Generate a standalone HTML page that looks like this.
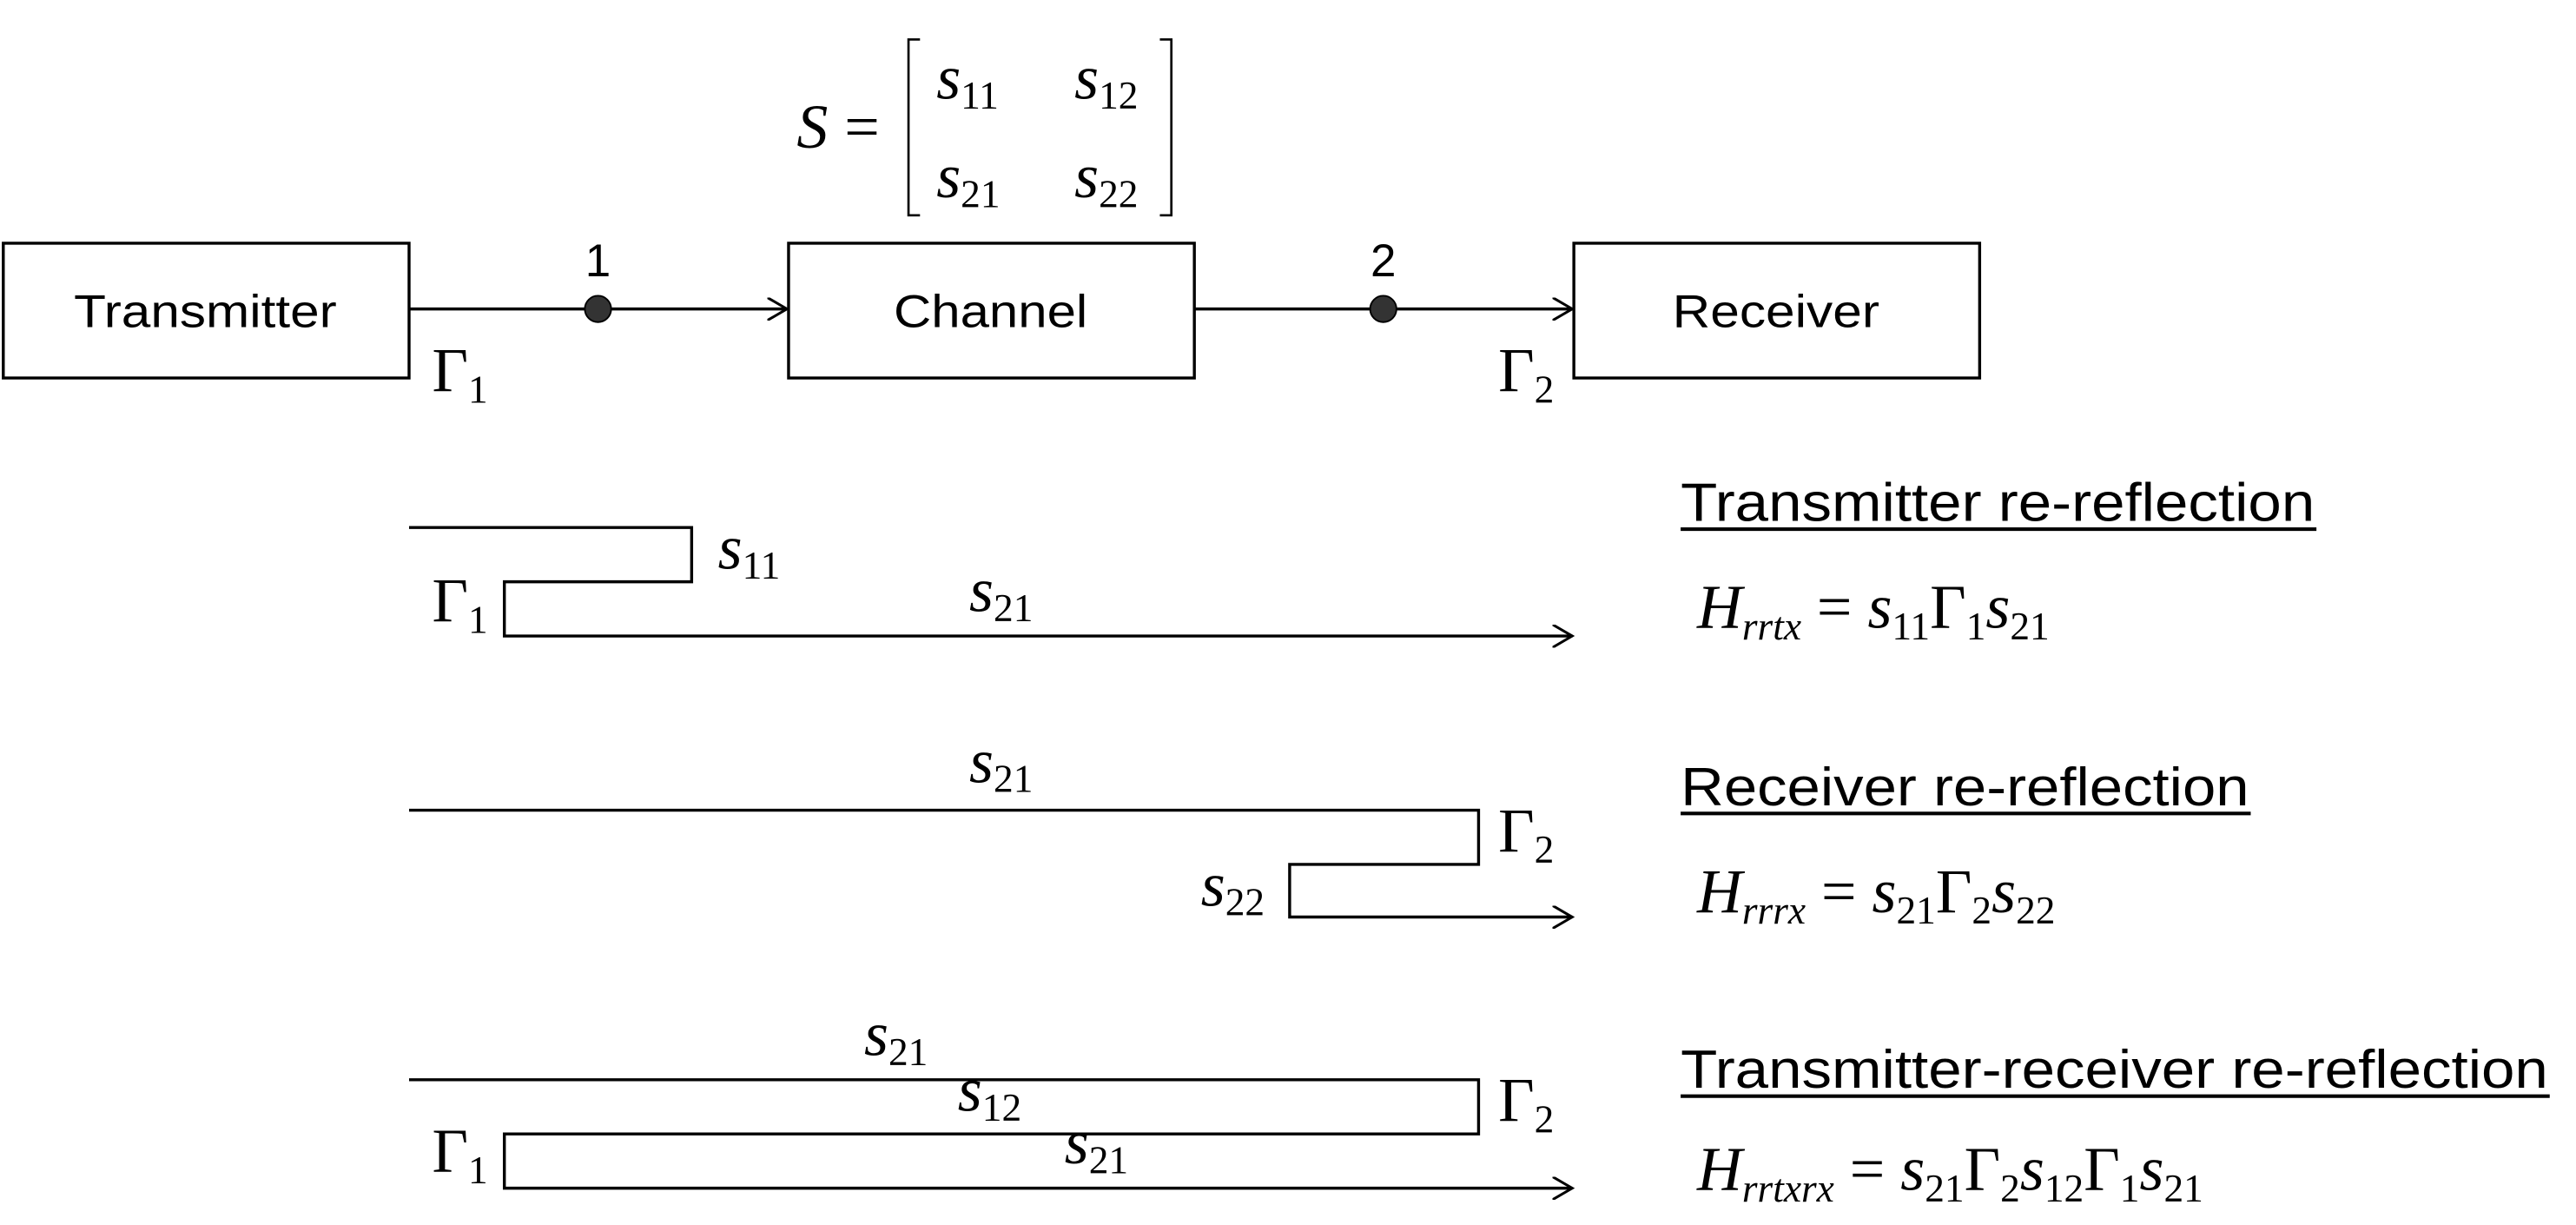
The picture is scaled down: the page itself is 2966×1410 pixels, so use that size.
<!DOCTYPE html>
<html><head><meta charset="utf-8"><style>
html,body{margin:0;padding:0;background:#fff;}
svg{display:block;}
.s{font-family:"Liberation Sans",sans-serif;fill:#000;}
.m{font-family:"Liberation Serif",serif;fill:#000;}
</style></head><body>
<svg width="2966" height="1410" viewBox="0 0 1568 745.4" preserveAspectRatio="none" xmlns="http://www.w3.org/2000/svg">
<defs><marker id="a" markerWidth="14" markerHeight="14" refX="12" refY="7" orient="auto" markerUnits="userSpaceOnUse"><path d="M0,0 L12,7 L0,14" fill="none" stroke="#000" stroke-width="1.6"/></marker></defs>
<g stroke="#000" stroke-width="1.8" fill="none">
<rect x="2" y="148" width="247" height="82"/>
<rect x="480" y="148" width="247" height="82"/>
<rect x="958" y="148" width="247" height="82"/>
<line x1="249" y1="188" x2="479" y2="188" marker-end="url(#a)"/>
<line x1="727" y1="188" x2="957" y2="188" marker-end="url(#a)"/>
<path d="M560,24 H553 V131 H560 M706,24 H713 V131 H706" stroke-width="1.4"/>
<path d="M249,321 H421 V354 H307 V387 H957" marker-end="url(#a)"/>
<path d="M249,493 H900 V526 H785 V558 H957" marker-end="url(#a)"/>
<path d="M249,657 H900 V690 H307 V723 H957" marker-end="url(#a)"/>
<line x1="1023" y1="322" x2="1410" y2="322" stroke-width="2.2"/>
<line x1="1023" y1="495" x2="1370" y2="495" stroke-width="2.2"/>
<line x1="1023" y1="667" x2="1552" y2="667" stroke-width="2.2"/>
</g>
<circle cx="364" cy="188" r="8" fill="#333" stroke="#000"/>
<circle cx="842" cy="188" r="8" fill="#333" stroke="#000"/>
<g class="s" font-size="28" text-anchor="middle">
<text x="125" y="199" textLength="160" lengthAdjust="spacingAndGlyphs">Transmitter</text>
<text x="603" y="199" textLength="118" lengthAdjust="spacingAndGlyphs">Channel</text>
<text x="1081" y="199" textLength="126" lengthAdjust="spacingAndGlyphs">Receiver</text>
<text x="364" y="168">1</text>
<text x="842" y="168">2</text>
</g>
<g class="s" font-size="33">
<text x="1023" y="317" textLength="386" lengthAdjust="spacingAndGlyphs">Transmitter re-reflection</text>
<text x="1023" y="490" textLength="346" lengthAdjust="spacingAndGlyphs">Receiver re-reflection</text>
<text x="1023" y="662" textLength="528" lengthAdjust="spacingAndGlyphs">Transmitter-receiver re-reflection</text>
</g>
<g class="m" font-size="38">
<text x="485" y="90" font-style="italic">S</text><text x="514" y="90">=</text>
<text x="570" y="60"><tspan font-style="italic">s</tspan><tspan font-size="24" dy="6">11</tspan></text>
<text x="654" y="60"><tspan font-style="italic">s</tspan><tspan font-size="24" dy="6">12</tspan></text>
<text x="570" y="120"><tspan font-style="italic">s</tspan><tspan font-size="24" dy="6">21</tspan></text>
<text x="654" y="120"><tspan font-style="italic">s</tspan><tspan font-size="24" dy="6">22</tspan></text>
<text x="263" y="238">Γ<tspan font-size="24" dy="7">1</tspan></text>
<text x="912" y="238">Γ<tspan font-size="24" dy="7">2</tspan></text>
<text x="437" y="346"><tspan font-style="italic">s</tspan><tspan font-size="24" dy="6">11</tspan></text>
<text x="263" y="378">Γ<tspan font-size="24" dy="7">1</tspan></text>
<text x="590" y="372"><tspan font-style="italic">s</tspan><tspan font-size="24" dy="6">21</tspan></text>
<text x="590" y="476"><tspan font-style="italic">s</tspan><tspan font-size="24" dy="6">21</tspan></text>
<text x="912" y="518">Γ<tspan font-size="24" dy="7">2</tspan></text>
<text x="731" y="551"><tspan font-style="italic">s</tspan><tspan font-size="24" dy="6">22</tspan></text>
<text x="526" y="642"><tspan font-style="italic">s</tspan><tspan font-size="24" dy="6">21</tspan></text>
<text x="912" y="682">Γ<tspan font-size="24" dy="7">2</tspan></text>
<text x="583" y="676"><tspan font-style="italic">s</tspan><tspan font-size="24" dy="6">12</tspan></text>
<text x="263" y="713">Γ<tspan font-size="24" dy="7">1</tspan></text>
<text x="648" y="708"><tspan font-style="italic">s</tspan><tspan font-size="24" dy="6">21</tspan></text>
<text x="1033" y="382"><tspan font-style="italic">H</tspan><tspan font-size="24" font-style="italic" dy="7">rrtx</tspan><tspan dy="-7"> = </tspan><tspan font-style="italic">s</tspan><tspan font-size="24" dy="7">11</tspan><tspan dy="-7">Γ</tspan><tspan font-size="24" dy="7">1</tspan><tspan dy="-7" font-style="italic">s</tspan><tspan font-size="24" dy="7">21</tspan></text>
<text x="1033" y="555"><tspan font-style="italic">H</tspan><tspan font-size="24" font-style="italic" dy="7">rrrx</tspan><tspan dy="-7"> = </tspan><tspan font-style="italic">s</tspan><tspan font-size="24" dy="7">21</tspan><tspan dy="-7">Γ</tspan><tspan font-size="24" dy="7">2</tspan><tspan dy="-7" font-style="italic">s</tspan><tspan font-size="24" dy="7">22</tspan></text>
<text x="1033" y="724"><tspan font-style="italic">H</tspan><tspan font-size="24" font-style="italic" dy="7">rrtxrx</tspan><tspan dy="-7"> = </tspan><tspan font-style="italic">s</tspan><tspan font-size="24" dy="7">21</tspan><tspan dy="-7">Γ</tspan><tspan font-size="24" dy="7">2</tspan><tspan dy="-7" font-style="italic">s</tspan><tspan font-size="24" dy="7">12</tspan><tspan dy="-7">Γ</tspan><tspan font-size="24" dy="7">1</tspan><tspan dy="-7" font-style="italic">s</tspan><tspan font-size="24" dy="7">21</tspan></text>
</g>
</svg>
</body></html>
